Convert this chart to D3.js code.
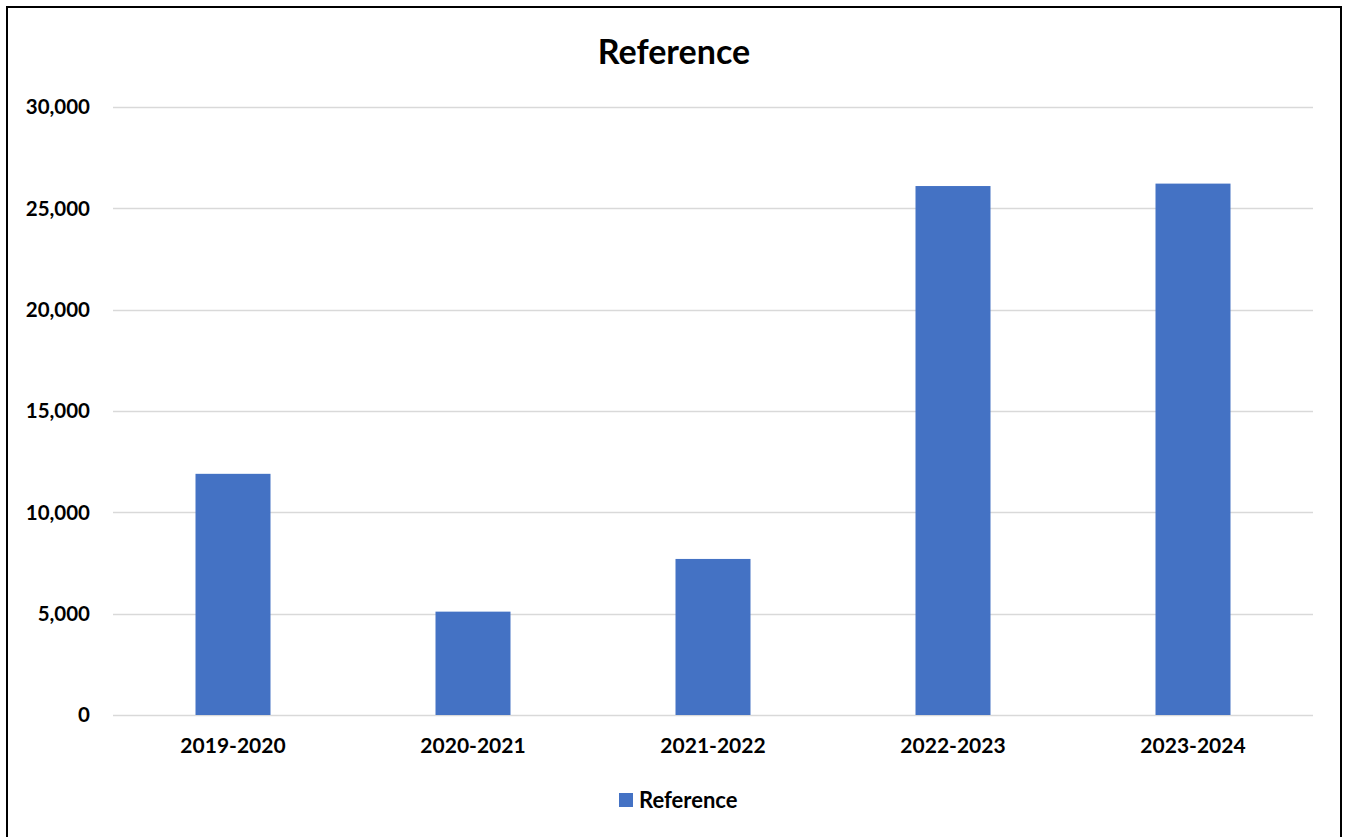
<!DOCTYPE html>
<html>
<head>
<meta charset="utf-8">
<script src="https://cdn.jsdelivr.net/npm/d3@7"></script>
<style>
  html, body { margin: 0; padding: 0; background: #fff; }
  svg { display: block; }
  text { font-family: Lato, "Open Sans", sans-serif; font-weight: bold; fill: #000; }
</style>
</head>
<body>
<svg id="chart" width="1346" height="837"></svg>
<script>
// Annual totals per school year
const categories = ["2019-2020", "2020-2021", "2021-2022", "2022-2023", "2023-2024"];
const values = [11900, 5100, 7700, 26100, 26220];
const yTicks = [0, 5000, 10000, 15000, 20000, 25000, 30000];
const seriesName = "Reference";
const chartTitle = "Reference";

const svg = d3.select("#chart");

// outer frame
svg.append("rect")
  .attr("x", 7).attr("y", 7)
  .attr("width", 1334).attr("height", 840)
  .attr("fill", "#fff").attr("stroke", "#000").attr("stroke-width", 2);

const plot = { left: 113, right: 1313, top: 107, bottom: 715 };

const x = d3.scaleBand()
  .domain(categories)
  .range([plot.left, plot.right])
  .paddingInner(0.6875)
  .paddingOuter(0.34375);

const y = d3.scaleLinear()
  .domain([0, 30000])
  .range([plot.bottom, plot.top]);

// horizontal gridlines
svg.append("g")
  .selectAll("line")
  .data(yTicks)
  .join("line")
  .attr("x1", plot.left).attr("x2", plot.right)
  .attr("y1", d => Math.round(y(d)) + 0.5)
  .attr("y2", d => Math.round(y(d)) + 0.5)
  .attr("stroke", "#d9d9d9")
  .attr("stroke-width", 1.5);

// y axis labels
const fmt = d3.format(",");
svg.append("g")
  .selectAll("text")
  .data(yTicks)
  .join("text")
  .attr("x", 90)
  .attr("y", d => y(d))
  .attr("dy", "0.35em")
  .attr("text-anchor", "end")
  .style("font-size", "20.5px")
  .text(d => fmt(d));

// bars
svg.append("g")
  .selectAll("rect")
  .data(values)
  .join("rect")
  .attr("x", (d, i) => x(categories[i]))
  .attr("width", x.bandwidth())
  .attr("y", d => y(d))
  .attr("height", d => y(0) - y(d))
  .attr("fill", "#4472c4");

// x axis labels
svg.append("g")
  .selectAll("text")
  .data(categories)
  .join("text")
  .attr("x", d => x(d) + x.bandwidth() / 2)
  .attr("y", 746)
  .attr("dy", "0.35em")
  .attr("text-anchor", "middle")
  .style("font-size", "21px")
  .text(d => d);

// title
svg.append("text")
  .attr("x", 674)
  .attr("y", 52)
  .attr("dy", "0.35em")
  .attr("text-anchor", "middle")
  .style("font-size", "34px")
  .text(chartTitle);

// legend
const legend = svg.append("g").attr("transform", "translate(619,793)");
legend.append("rect")
  .attr("width", 14).attr("height", 14)
  .attr("fill", "#4472c4");
legend.append("text")
  .attr("x", 20).attr("y", 7)
  .attr("dy", "0.35em")
  .style("font-size", "22px")
  .text(seriesName);
</script>
</body>
</html>
